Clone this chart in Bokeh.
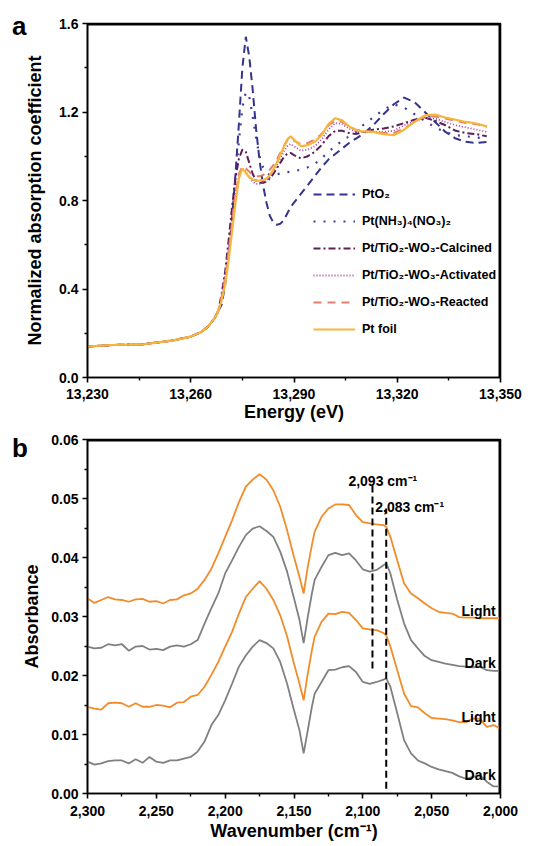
from bokeh.plotting import figure
from bokeh.models import (Range1d, FixedTicker, NumeralTickFormatter, Legend,
                          LegendItem, ColumnDataSource, Div, Span)
from bokeh.layouts import column, row
from bokeh.embed import file_html
from bokeh.resources import INLINE
from bokeh.core.properties import value

FONT = "Liberation Sans"

# ---------------- Panel a data (XANES) ----------------
energy = [13230, 13235, 13240, 13245, 13250, 13255, 13260, 13263, 13265, 13267,
          13268, 13269, 13270, 13271, 13272, 13273, 13274, 13275, 13276, 13277,
          13278, 13279, 13280, 13281, 13282, 13283, 13284, 13285, 13286, 13287,
          13288, 13289, 13290, 13292, 13294, 13296, 13298, 13300, 13302, 13304,
          13306, 13308, 13310, 13313, 13316, 13319, 13322, 13325, 13328, 13331,
          13334, 13337, 13340, 13343, 13346, 13350]

pre = [0.140, 0.145, 0.148, 0.148, 0.158, 0.168, 0.185, 0.205, 0.230, 0.270, 0.300]

pto2 = pre + [0.33, 0.42, 0.55, 0.72, 0.92, 1.15, 1.40, 1.54, 1.45, 1.30,
              1.12, 0.98, 0.87, 0.79, 0.73, 0.70, 0.69, 0.695, 0.71, 0.74,
              0.77, 0.79, 0.83, 0.87, 0.91, 0.95, 0.985, 1.01, 1.035, 1.06,
              1.08, 1.10, 1.14, 1.19, 1.235, 1.265, 1.245, 1.20, 1.155, 1.11,
              1.08, 1.065, 1.06, 1.065, 1.075]

ptnh3 = pre + [0.36, 0.45, 0.58, 0.74, 0.90, 1.07, 1.22, 1.29, 1.27, 1.18,
               1.08, 1.00, 0.95, 0.925, 0.915, 0.915, 0.918, 0.922, 0.925, 0.928,
               0.93, 0.932, 0.94, 0.95, 0.965, 0.99, 1.02, 1.045, 1.07, 1.09,
               1.11, 1.14, 1.175, 1.21, 1.235, 1.22, 1.19, 1.16, 1.13, 1.11,
               1.095, 1.09, 1.085, 1.08]

calcined = pre + [0.38, 0.48, 0.62, 0.77, 0.90, 0.99, 1.03, 1.02, 0.97, 0.92,
                  0.89, 0.88, 0.88, 0.885, 0.90, 0.92, 0.945, 0.97, 0.995, 1.01,
                  1.015, 1.005, 0.99, 1.00, 1.02, 1.05, 1.09, 1.115, 1.115, 1.105,
                  1.10, 1.11, 1.12, 1.125, 1.135, 1.15, 1.165, 1.175, 1.16, 1.14,
                  1.115, 1.105, 1.10, 1.09, 1.075]

activated = pre + [0.37, 0.46, 0.58, 0.71, 0.83, 0.91, 0.945, 0.93, 0.905, 0.885,
                   0.875, 0.875, 0.88, 0.89, 0.905, 0.93, 0.96, 0.99, 1.02, 1.045,
                   1.055, 1.045, 1.025, 1.03, 1.045, 1.075, 1.12, 1.15, 1.145, 1.125,
                   1.112, 1.11, 1.11, 1.11, 1.115, 1.14, 1.16, 1.175, 1.17, 1.155,
                   1.14, 1.13, 1.12, 1.11, 1.09]

reacted = pre + [0.37, 0.45, 0.57, 0.70, 0.83, 0.92, 0.955, 0.945, 0.93, 0.915,
                 0.91, 0.91, 0.915, 0.925, 0.94, 0.96, 0.985, 1.015, 1.045, 1.07,
                 1.08, 1.07, 1.055, 1.06, 1.075, 1.10, 1.14, 1.16, 1.155, 1.135,
                 1.12, 1.115, 1.11, 1.105, 1.105, 1.125, 1.155, 1.18, 1.18, 1.17,
                 1.16, 1.15, 1.145, 1.13, 1.10]

ptfoil = pre + [0.35, 0.42, 0.53, 0.66, 0.79, 0.90, 0.945, 0.925, 0.905, 0.895,
                0.89, 0.89, 0.892, 0.90, 0.915, 0.94, 0.97, 1.005, 1.04, 1.075,
                1.09, 1.075, 1.045, 1.05, 1.065, 1.095, 1.145, 1.172, 1.162, 1.135,
                1.118, 1.112, 1.11, 1.10, 1.095, 1.12, 1.155, 1.185, 1.188, 1.175,
                1.165, 1.155, 1.148, 1.135, 1.105]

series_a = ["PtO₂", "Pt(NH₃)₄(NO₃)₂", "Pt/TiO₂-WO₃-Calcined",
            "Pt/TiO₂-WO₃-Activated", "Pt/TiO₂-WO₃-Reacted", "Pt foil"]

a_xticks = [13230, 13260, 13290, 13320, 13350]
a_xminor = [13245, 13275, 13305, 13335]
a_yticks = [0.0, 0.4, 0.8, 1.2, 1.6]
a_yminor = [0.2, 0.6, 1.0, 1.4]

# ---------------- Panel b data (DRIFTS) ----------------
wn = [2300, 2295, 2290, 2285, 2280, 2275, 2270, 2265, 2260, 2255,
      2250, 2245, 2240, 2235, 2230, 2225, 2220, 2215, 2210, 2205,
      2200, 2195, 2190, 2185, 2180, 2175, 2170, 2165, 2160, 2155,
      2150, 2146, 2143, 2140, 2137, 2135, 2130, 2125, 2120, 2115,
      2110, 2105, 2100, 2095, 2090, 2085, 2083, 2080, 2075, 2070,
      2065, 2060, 2055, 2050, 2045, 2040, 2035, 2030, 2025, 2020,
      2015, 2010, 2005, 2000]

light_top = [0.0331, 0.0323, 0.0328, 0.0333, 0.0329, 0.0328, 0.0325, 0.0329, 0.0330, 0.0325,
             0.0326, 0.0322, 0.0328, 0.0329, 0.0336, 0.0339, 0.0347, 0.0362, 0.0381, 0.0407,
             0.0435, 0.0463, 0.0494, 0.0520, 0.0532, 0.0541, 0.0532, 0.0514, 0.0486, 0.0446,
             0.0401, 0.0367, 0.0339, 0.0384, 0.0421, 0.0444, 0.0469, 0.0483, 0.0490, 0.0490,
             0.0489, 0.0472, 0.0460, 0.0458, 0.0456, 0.0455, 0.0452, 0.0435, 0.0395, 0.0356,
             0.0339, 0.0331, 0.0322, 0.0314, 0.0308, 0.0306, 0.0305, 0.0299, 0.0298, 0.0298,
             0.0297, 0.0297, 0.0297, 0.0297]

dark_top = [0.0249, 0.0246, 0.0247, 0.0253, 0.0251, 0.0253, 0.0242, 0.0249, 0.0250, 0.0244,
            0.0245, 0.0243, 0.0249, 0.0251, 0.0249, 0.0253, 0.0260, 0.0288, 0.0314, 0.0339,
            0.0373, 0.0395, 0.0418, 0.0438, 0.0449, 0.0453, 0.0445, 0.0435, 0.0410, 0.0376,
            0.0331, 0.0294, 0.0255, 0.0299, 0.0339, 0.0362, 0.0384, 0.0404, 0.0408, 0.0404,
            0.0407, 0.0395, 0.0380, 0.0376, 0.0379, 0.0387, 0.0390, 0.0373, 0.0328, 0.0288,
            0.0260, 0.0246, 0.0233, 0.0226, 0.0223, 0.0220, 0.0218, 0.0216, 0.0215, 0.0214,
            0.0215, 0.0209, 0.0208, 0.0208]

light_bot = [0.0147, 0.0144, 0.0142, 0.0153, 0.0154, 0.0153, 0.0147, 0.0153, 0.0147, 0.0147,
             0.0150, 0.0149, 0.0146, 0.0154, 0.0155, 0.0164, 0.0167, 0.0181, 0.0201, 0.0223,
             0.0249, 0.0274, 0.0305, 0.0333, 0.0347, 0.0360, 0.0347, 0.0328, 0.0302, 0.0266,
             0.0220, 0.0186, 0.0158, 0.0203, 0.0243, 0.0266, 0.0291, 0.0305, 0.0304, 0.0308,
             0.0306, 0.0294, 0.0280, 0.0278, 0.0277, 0.0272, 0.0268, 0.0249, 0.0209, 0.0169,
             0.0148, 0.0146, 0.0136, 0.0128, 0.0127, 0.0126, 0.0124, 0.0121, 0.0121, 0.0127,
             0.0127, 0.0113, 0.0116, 0.0110]

dark_bot = [0.0054, 0.0049, 0.0051, 0.0055, 0.0056, 0.0056, 0.0051, 0.0058, 0.0052, 0.0062,
            0.0054, 0.0052, 0.0056, 0.0056, 0.0059, 0.0062, 0.0071, 0.0088, 0.0116, 0.0133,
            0.0158, 0.0186, 0.0215, 0.0234, 0.0249, 0.0260, 0.0255, 0.0246, 0.0223, 0.0186,
            0.0141, 0.0107, 0.0068, 0.0107, 0.0147, 0.0169, 0.0189, 0.0209, 0.0210, 0.0214,
            0.0216, 0.0206, 0.0189, 0.0186, 0.0189, 0.0193, 0.0195, 0.0181, 0.0136, 0.0090,
            0.0068, 0.0056, 0.0051, 0.0045, 0.0041, 0.0038, 0.0035, 0.0029, 0.0025, 0.0028,
            0.0031, 0.0020, 0.0012, 0.0012]

peak_wn = [2093, 2083]
peak_line_bottom = [0.0212, 0.0008]
peak_line_top = [0.0525, 0.0483]
peak_labels = ["2,093 cm⁻¹", "2,083 cm⁻¹"]
peak_label_x = [2110.5, 2091.0]
peak_label_y = [0.0530, 0.0485]

state_labels = ["Light", "Dark", "Light", "Dark"]
state_label_x = [2003.5, 2003.5, 2003.5, 2003.5]
state_label_y = [0.0310, 0.0221, 0.0129, 0.0032]

b_xticks = [2300, 2250, 2200, 2150, 2100, 2050, 2000]
b_xminor = [2275, 2225, 2175, 2125, 2075, 2025]
b_yticks = [0.00, 0.01, 0.02, 0.03, 0.04, 0.05, 0.06]
b_yminor = [0.005, 0.015, 0.025, 0.035, 0.045, 0.055]

PANEL_W = 16      # strip holding the panel letter (letter may overflow into the figure's transparent border)
FIG_W = 530 - PANEL_W


def style(p, xt, xm, yt, ym, xfmt, yfmt, x_lab_so, x_title_so, y_title_so):
    p.xgrid.visible = False
    p.ygrid.visible = False
    p.outline_line_color = "black"
    p.outline_line_width = 1.6
    p.border_fill_color = None
    p.xaxis.ticker = FixedTicker(ticks=xt, minor_ticks=xm)
    p.yaxis.ticker = FixedTicker(ticks=yt, minor_ticks=ym)
    p.xaxis.formatter = NumeralTickFormatter(format=xfmt)
    p.yaxis.formatter = NumeralTickFormatter(format=yfmt)
    for ax in (p.xaxis, p.yaxis):
        ax.axis_line_width = 1.6
        ax.axis_line_color = "black"
        ax.major_tick_line_width = 1.6
        ax.minor_tick_line_width = 1.4
        ax.major_tick_line_color = "black"
        ax.minor_tick_line_color = "black"
        ax.major_tick_out = 5
        ax.major_tick_in = 0
        ax.minor_tick_out = 3
        ax.minor_tick_in = 0
        ax.major_label_text_font = FONT
        ax.major_label_text_font_style = "bold"
        ax.major_label_text_font_size = "14px"
        ax.major_label_text_color = "black"
        ax.axis_label_text_font = FONT
        ax.axis_label_text_font_style = "bold"
        ax.axis_label_text_font_size = "18px"
        ax.axis_label_text_color = "black"
    p.xaxis.major_label_standoff = x_lab_so
    p.xaxis.axis_label_standoff = x_title_so
    p.yaxis.major_label_standoff = 4
    p.yaxis.axis_label_standoff = y_title_so
    # top and right edges of the frame box
    x0, x1 = p.x_range.start, p.x_range.end
    y0, y1 = p.y_range.start, p.y_range.end
    p.segment(x0=[x0, x1], y0=[y1, y0], x1=[x1, x1], y1=[y1, y1],
              line_color="black", line_width=4)
    p.add_layout(Span(location=y1, dimension="width", line_color="black", line_width=3))
    p.add_layout(Span(location=x1, dimension="height", line_color="black", line_width=3))


def letter(txt, h, pad_top):
    html = ('<div style="font-family: \'Liberation Sans\', Arial, sans-serif; '
            'font-weight: bold; font-size: 26px; line-height: 26px; color: black; '
            'white-space: nowrap; overflow: visible; '
            'padding-top: %dpx; padding-left: 12px;">%s</div>' % (pad_top, txt))
    return Div(text=html, width=PANEL_W, height=h, margin=0,
               styles={"overflow": "visible"})


# ---------------- Figure a ----------------
pa = figure(width=FIG_W, height=425, output_backend="svg", toolbar_location=None,
            x_range=Range1d(a_xticks[0], a_xticks[-1]), y_range=Range1d(a_yticks[0], a_yticks[-1]),
            min_border_left=87 - PANEL_W, min_border_right=30, min_border_top=23,
            min_border_bottom=48,
            x_axis_label="Energy (eV)", y_axis_label="Normalized absorption coefficient")
style(pa, a_xticks, a_xminor, a_yticks, a_yminor, "0,0", "0.0", 6, 0, 11)

src_a = ColumnDataSource(dict(e=energy, pto2=pto2, ptnh3=ptnh3, calcined=calcined,
                              activated=activated, reacted=reacted, ptfoil=ptfoil))
specs = [("pto2", "#34348c", "8 5", 2.0),
         ("ptnh3", "#3d3da2", "2 8", 2.2),
         ("calcined", "#5e1e58", "7 3 2 3", 2.0),
         ("activated", "#a04a9c", "1 2", 1.8),
         ("reacted", "#e3806e", "8 6", 2.0),
         ("ptfoil", "#f7b53a", "solid", 2.2)]
items = []
for (col, color, dash, w), lab in zip(specs, series_a):
    r = pa.line("e", col, source=src_a, line_color=color, line_dash=dash, line_width=w)
    items.append(LegendItem(label=lab, renderers=[r]))

leg = Legend(items=items, location=(226, 38), orientation="vertical",
             glyph_width=42, glyph_height=20, label_height=20, spacing=7,
             label_standoff=7, padding=0, margin=0,
             border_line_color=None, background_fill_alpha=0,
             label_text_font=FONT, label_text_font_style="bold",
             label_text_font_size="12.5px", label_text_color="black")
pa.add_layout(leg)

# ---------------- Figure b ----------------
pb = figure(width=FIG_W, height=419, output_backend="svg", toolbar_location=None,
            x_range=Range1d(b_xticks[0], b_xticks[-1]), y_range=Range1d(b_yticks[0], b_yticks[-1]),
            min_border_left=87 - PANEL_W, min_border_right=30, min_border_top=14,
            min_border_bottom=51,
            x_axis_label="Wavenumber (cm⁻¹)", y_axis_label="Absorbance")
style(pb, b_xticks, b_xminor, b_yticks, b_yminor, "0,0", "0.00", 7, 2, 6)

src_b = ColumnDataSource(dict(w=wn, lt=light_top, dt=dark_top, lb=light_bot, db=dark_bot))
ORANGE = "#f28c2a"
GRAY = "#808080"
pb.line("w", "db", source=src_b, line_color=GRAY, line_width=1.8)
pb.line("w", "lb", source=src_b, line_color=ORANGE, line_width=1.8)
pb.line("w", "dt", source=src_b, line_color=GRAY, line_width=1.8)
pb.line("w", "lt", source=src_b, line_color=ORANGE, line_width=1.8)

pb.segment(x0=peak_wn, y0=peak_line_bottom, x1=peak_wn, y1=peak_line_top,
           line_color="black", line_width=2, line_dash="7 4")

pb.text(x=peak_label_x, y=peak_label_y, text=peak_labels,
        text_font=value(FONT), text_font_style="bold", text_font_size="14px",
        text_color="black", text_baseline="alphabetic", text_align="left")
pb.text(x=state_label_x, y=state_label_y, text=state_labels,
        text_font=value(FONT), text_font_style="bold", text_font_size="14px",
        text_color="black", text_baseline="alphabetic", text_align="right")

layout = column(row(letter("a", 425, 13), pa, spacing=0),
                row(letter("b", 419, 10), pb, spacing=0), spacing=0)
open("out.html", "w").write(file_html(layout, INLINE))
